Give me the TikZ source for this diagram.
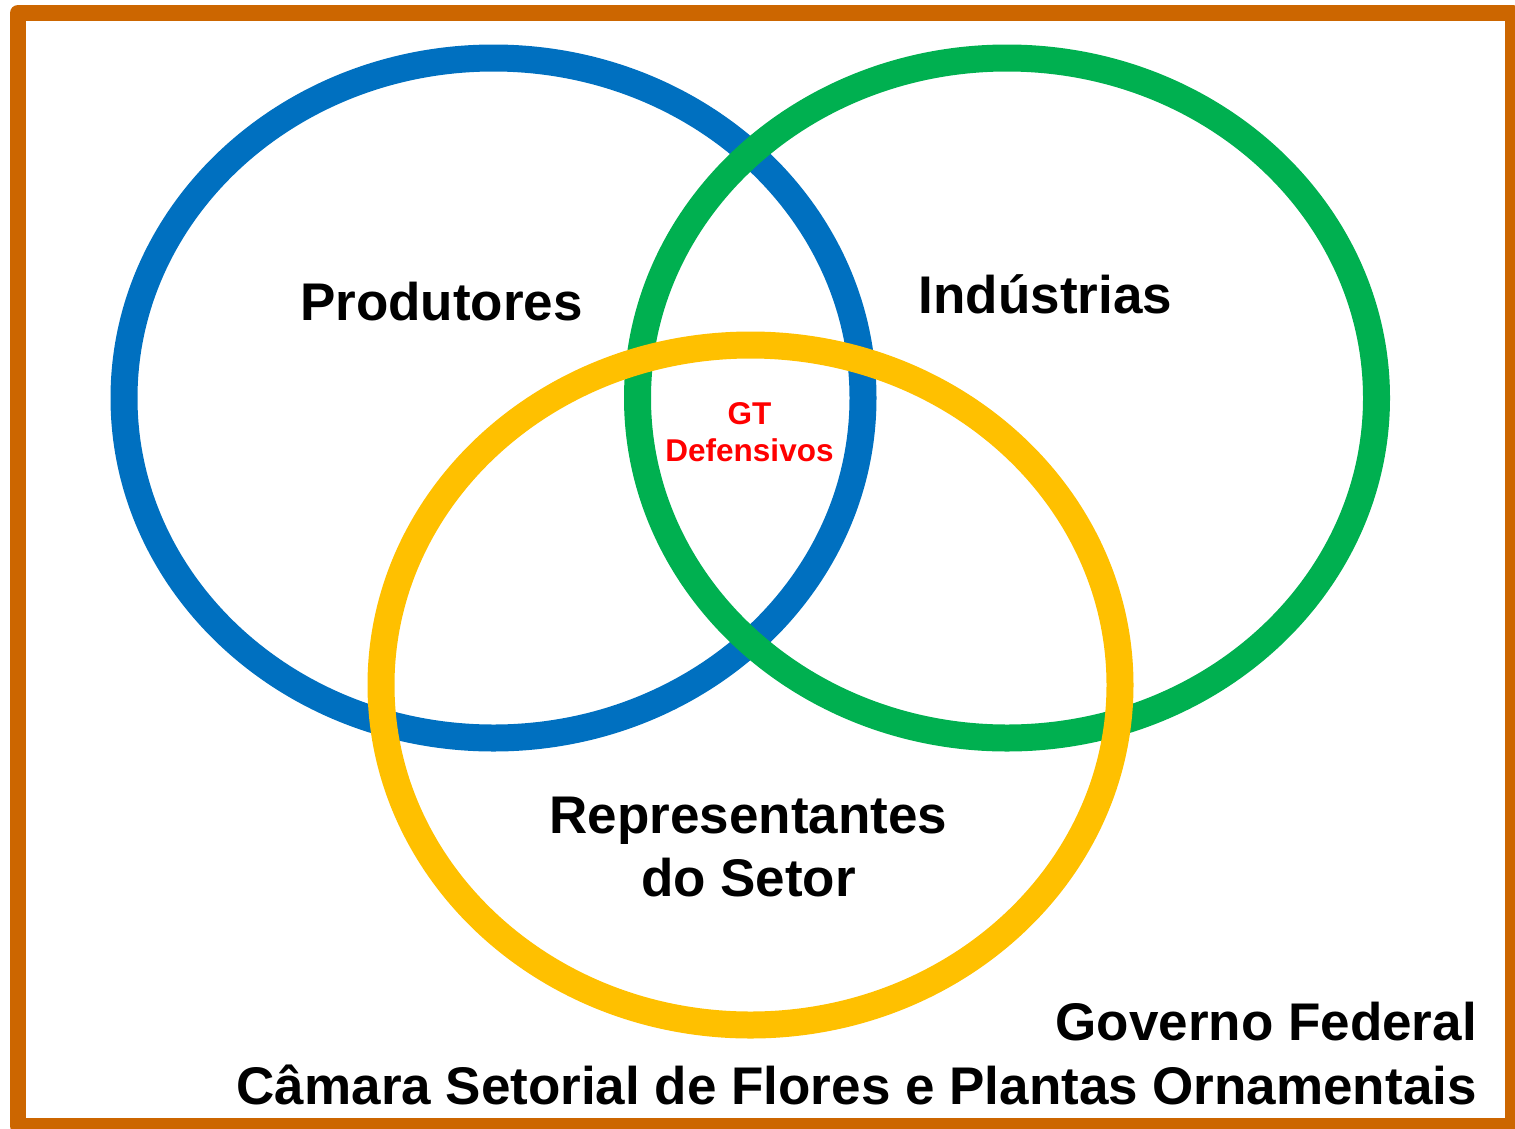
\documentclass[tikz,border=0pt]{standalone}
\usepackage{fontspec}
\setmainfont{Liberation Sans}
\usepackage{tikz}
\usetikzlibrary{positioning}
\definecolor{prodblue}{HTML}{0070C0}
\definecolor{indgreen}{HTML}{00B050}
\definecolor{repyellow}{HTML}{FFC000}
\definecolor{frameorange}{HTML}{CC6600}
\tikzstyle{ring}=[line width=27pt]
\tikzstyle{biglabel}=[font=\fontsize{53}{63}\selectfont\bfseries, inner sep=0pt]
\tikzstyle{gtlabel}=[font=\fontsize{31.5}{38}\selectfont\bfseries, text=red, inner sep=0pt]

\begin{document}
\begin{tikzpicture}[x=1pt, y=-1pt]

  \def\rx{369.5};
  \def\ry{340};

  \useasboundingbox (0,0) rectangle (1515,1128);
  \draw[frameorange, line width=16pt, line join=round] (18,13) rectangle (1513,1126);

  \foreach \x/\y/\col/\name in {493.5/398/prodblue/prod, 1007/398/indgreen/ind, 750.5/685/repyellow/rep}
  {
    \draw[ring, draw=\col] (\x,\y) ellipse [x radius=\rx, y radius=\ry];
    \coordinate (\name c) at (\x,\y);
  }

  \node[biglabel, anchor=base] (prodlabel) at (441.5,320) {Produtores};
  \node[biglabel, anchor=base] (indlabel) at (1045.5,313) {Indústrias};
  \node[biglabel, anchor=base] (replabel) at (748.5,833) {Representantes};
  \node[biglabel, anchor=base] (setorlabel) at ([yshift=-63pt]replabel.base) {do Setor};

  \node[gtlabel, anchor=base] (gt) at (749.5,424) {GT};
  \node[gtlabel, anchor=base] (defensivos) at ([yshift=-37pt]gt.base) {Defensivos};

  \node[biglabel, anchor=base east] (governo) at (1477,1040) {Governo Federal};
  \node[biglabel, anchor=base east] (camara) at ([yshift=-64pt]governo.base east) {Câmara Setorial de Flores e Plantas Ornamentais};

\end{tikzpicture}
\end{document}
